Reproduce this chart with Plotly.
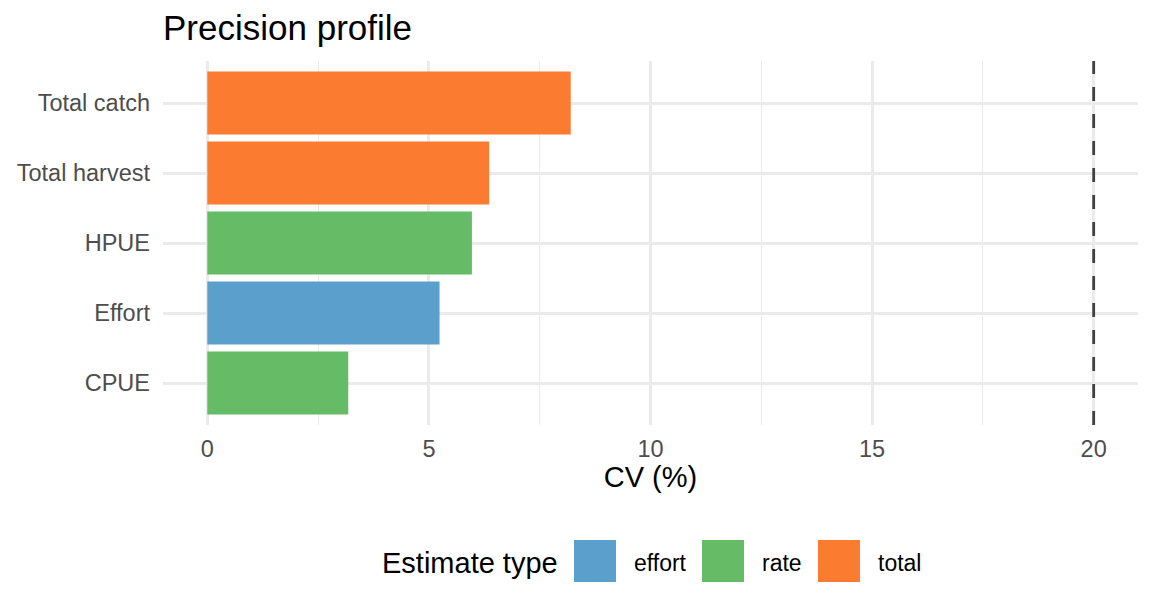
import plotly.graph_objects as go

categories = ["CPUE", "Effort", "HPUE", "Total harvest", "Total catch"]
cv_values = [3.18, 5.24, 5.97, 6.36, 8.20]
est_types = ["rate", "effort", "rate", "total", "total"]
type_order = ["effort", "rate", "total"]
type_colors = {"effort": "#5B9FCC", "rate": "#66BB66", "total": "#FB7B31"}
target_cv = 20
x_ticks = [0, 5, 10, 15, 20]

W, H = 1152, 614
ML, MR, MT, MB = 163, 14, 61, 189
PW, PH = W - ML - MR, H - MT - MB


def px_x(px):
    return (px - ML) / PW


def px_y(py):
    return (H - MB - py) / PH


fig = go.Figure()
for t in type_order:
    ys = [c for c, e in zip(categories, est_types) if e == t]
    xs = [v for v, e in zip(cv_values, est_types) if e == t]
    fig.add_trace(go.Bar(
        x=xs, y=ys, orientation="h", name=t,
        marker=dict(color=type_colors[t], line=dict(width=0)),
        width=0.9, showlegend=False,
    ))

fig.add_shape(type="line", xref="x", yref="paper", x0=target_cv, x1=target_cv,
              y0=0, y1=1, line=dict(color="#404040", width=2.8, dash="14px,13px"))

# legend drawn manually (large ggplot-style keys)
font_family = "Liberation Sans, Arial, sans-serif"
fig.add_annotation(text="Estimate type", xref="paper", yref="paper",
                   x=px_x(380), y=px_y(563), xanchor="left", yanchor="middle",
                   showarrow=False, font=dict(size=29, color="black", family=font_family))
key_x = {"effort": 574, "rate": 702, "total": 818}
for t in type_order:
    x0 = key_x[t]
    fig.add_shape(type="rect", xref="paper", yref="paper",
                  x0=px_x(x0), x1=px_x(x0 + 42), y0=px_y(582), y1=px_y(540),
                  fillcolor=type_colors[t], line=dict(width=0), layer="above")
    fig.add_annotation(text=t, xref="paper", yref="paper",
                       x=px_x(x0 + 58), y=px_y(563), xanchor="left", yanchor="middle",
                       showarrow=False, font=dict(size=23, color="black", family=font_family))

fig.update_layout(
    width=W, height=H,
    margin=dict(l=ML, r=MR, t=MT, b=MB),
    paper_bgcolor="white", plot_bgcolor="white",
    font=dict(family=font_family, color="#4d4d4d", size=23),
    title=dict(text="Precision profile", x=0, xref="paper", xanchor="left",
               y=1 - 28 / H, yanchor="middle",
               font=dict(size=35, color="black")),
    barmode="overlay",
    showlegend=False,
    xaxis=dict(
        range=[-1, 21], tickvals=x_ticks, ticktext=[str(v) for v in x_ticks],
        showgrid=True, gridcolor="#EBEBEB", gridwidth=2.7,
        minor=dict(dtick=2.5, tick0=0, showgrid=True, gridcolor="#EBEBEB", gridwidth=1.4),
        zeroline=False, showline=False, ticks="",
        ticklabelstandoff=7,
        tickfont=dict(size=23.5, color="#4d4d4d"),
        title=dict(text="CV (%)", font=dict(size=29, color="black"), standoff=6),
    ),
    yaxis=dict(
        categoryorder="array", categoryarray=categories,
        range=[-0.6, 4.6],
        showgrid=True, gridcolor="#EBEBEB", gridwidth=2.7,
        zeroline=False, showline=False, ticks="",
        ticklabelstandoff=12,
        tickfont=dict(size=23.5, color="#4d4d4d"),
    ),
)

fig.write_html("out.html")
